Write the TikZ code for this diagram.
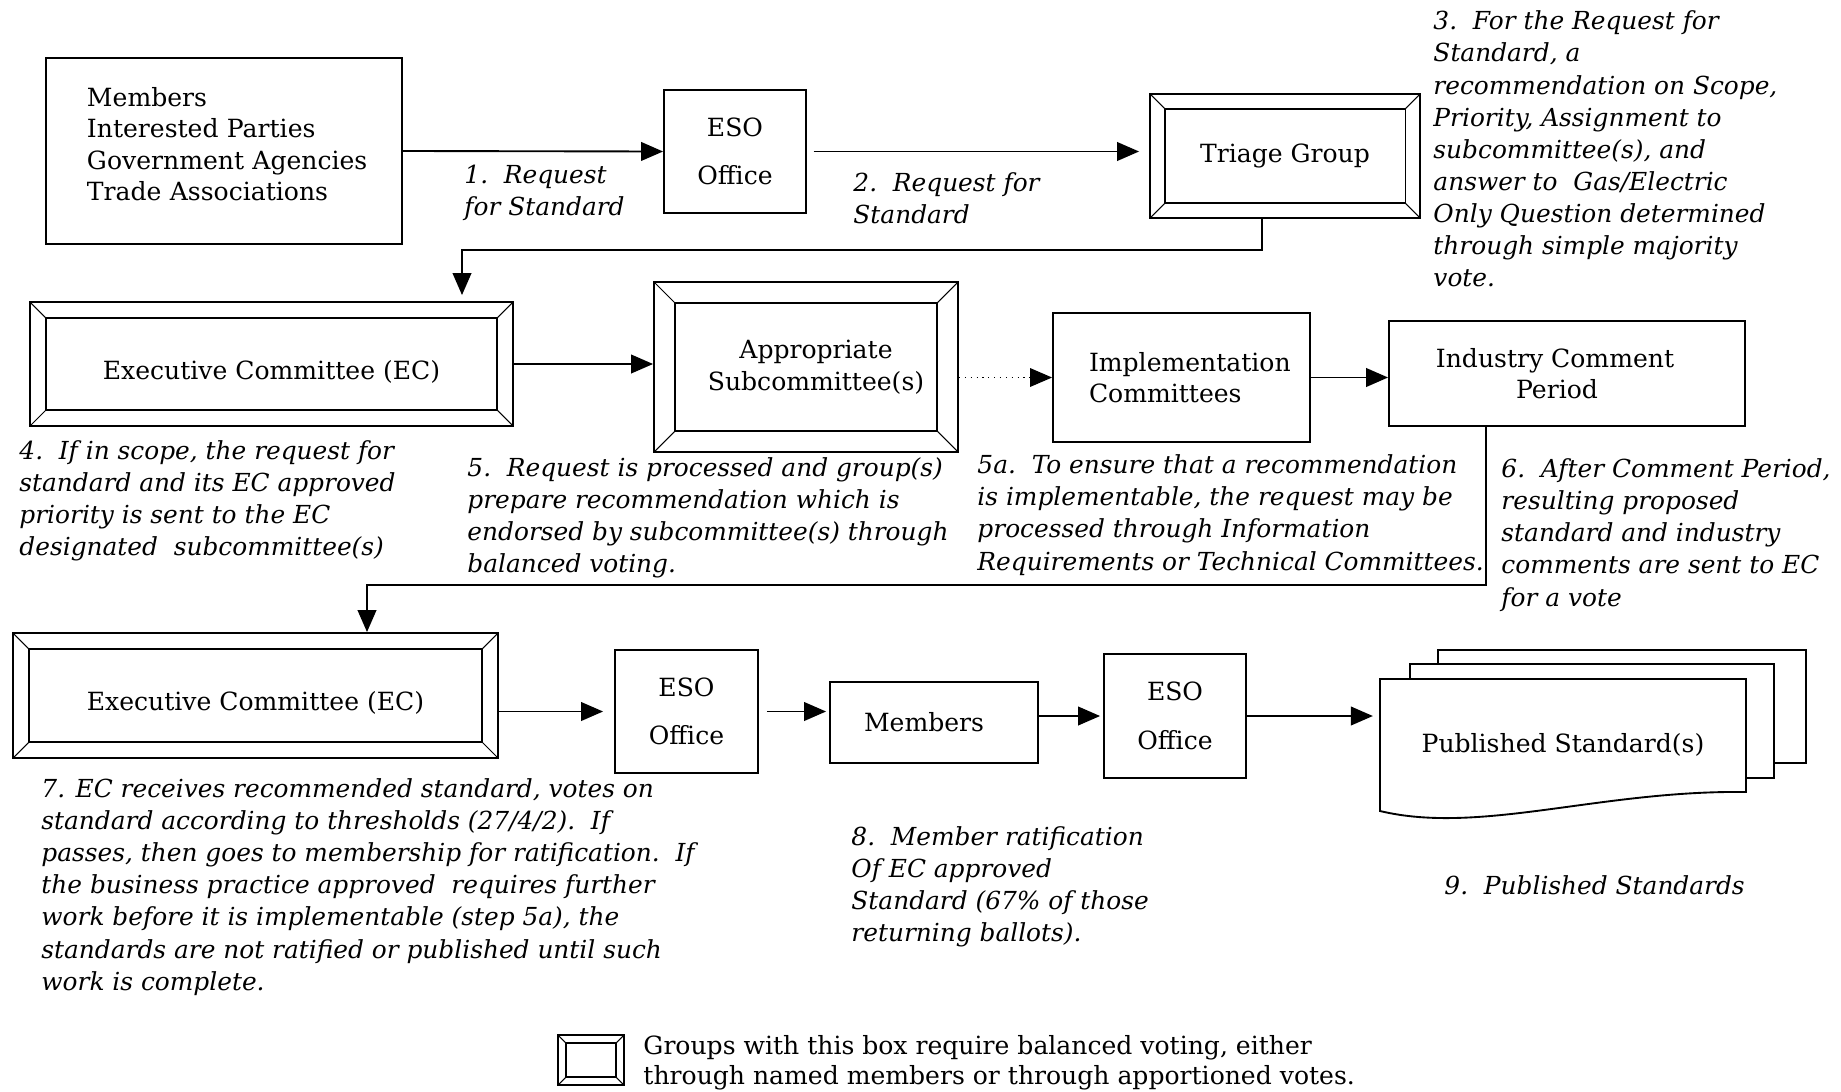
\documentclass[tikz,border=0pt]{standalone}
\usepackage{fontspec}
\setmainfont{DejaVu Serif}
\usetikzlibrary{arrows.meta,positioning,calc}
\tikzset{
>={Triangle[length=0.33cm,width=0.28cm]},
  box/.style={
    rectangle,
    draw=black, line width=0.8pt,
    inner sep=0pt,
    align=center},
  bevelbox/.style={
    box,
    path picture={
      \draw[line width=0.45pt]
        ([shift={(#1,-#1)}]path picture bounding box.north west)
        rectangle ([shift={(-#1,#1)}]path picture bounding box.south east);
      \draw[line width=0.45pt]
        (path picture bounding box.north west) -- ++(#1,-#1)
        (path picture bounding box.north east) -- ++(-#1,-#1)
        (path picture bounding box.south west) -- ++(#1,#1)
        (path picture bounding box.south east) -- ++(-#1,#1);}},
  note/.style={
    anchor=west,
    align=left,
    inner sep=0pt,
    font=\fontsize{10.6pt}{13.7pt}\selectfont\itshape},
  line/.style={draw, line width=0.8pt, ->},
  dotline/.style={draw, line width=0.5pt, dotted, ->},
}

\begin{document}
\begin{tikzpicture}[x=0.015cm, y=0.015cm, font=\fontsize{10.7pt}{13.5pt}\selectfont]
\useasboundingbox (0,0) rectangle (1841,-1091);

% first row
\node[box, minimum width=5.34cm, minimum height=2.79cm, text width=4.11cm, align=left,
  text height=8pt, text depth=46.4pt] (members) at (224,-151) {Members\\Interested Parties\\\mbox{Government Agencies}\\Trade Associations};
\node[box, minimum width=2.13cm, minimum height=1.845cm] (eso1) at (735,-151.5) {ESO\\[0.25cm]Office};
\node[bevelbox=0.225cm, minimum width=4.05cm, minimum height=1.86cm] (triage) at (1285,-156) {Triage Group};

% second row
\node[bevelbox=0.24cm, minimum width=7.245cm, minimum height=1.86cm, text height=0.46cm, text depth=0pt] (ec1) at (271.5,-364) {Executive Committee (EC)};
\node[bevelbox=0.315cm, minimum width=4.56cm, minimum height=2.55cm] (subcom) at (806,-367) {\hspace*{0.3cm}Appropriate\\\hspace*{0.3cm}Subcommittee(s)};
\node[box, minimum width=3.855cm, minimum height=1.935cm, text width=2.775cm, align=left] (impl) at (1181.5,-377.5) {\mbox{Implementation}\\Committees};
\node[box, minimum width=5.34cm, minimum height=1.575cm] (icp) at (1567,-373.5) {Industry Comment\hspace*{0.36cm}\\Period\hspace*{0.3cm}};

% third row
\node[bevelbox=0.24cm, minimum width=7.275cm, minimum height=1.875cm, text height=0.46cm, text depth=0pt] (ec2) at (255.5,-695.5) {Executive Committee (EC)};
\node[box, minimum width=2.145cm, minimum height=1.845cm] (eso2) at (686.5,-711.5) {ESO\\[0.25cm]Office};
\node[box, minimum width=3.12cm, minimum height=1.215cm, text width=2.1cm, align=left] (members2) at (934,-722.5) {Members};
\node[box, minimum width=2.13cm, minimum height=1.86cm] (eso3) at (1175,-716) {ESO\\[0.25cm]Office};

% stack of documents
\draw[fill=white, line width=0.8pt] (1438,-650) rectangle (1806,-763);
\draw[fill=white, line width=0.8pt] (1410,-664) rectangle (1774,-778);
\draw[fill=white, line width=0.8pt] (1380,-679) -- (1746,-679) -- (1746,-792)
  .. controls (1600,-790) and (1480,-835) .. (1380,-811) -- cycle;
\node[minimum width=5.49cm, minimum height=1.98cm, inner sep=0pt] (pub) at (1563,-745) {Published Standard(s)};

% legend
\node[bevelbox=0.12cm, minimum width=0.99cm, minimum height=0.75cm] (key) at (591,-1060) {};
\node[anchor=west, align=left, inner sep=0pt, font=\fontsize{10.7pt}{13pt}\selectfont] (keytext) at (643,-1063) {Groups with this box require balanced voting, either\\through named members or through apportioned votes.};

% connectors
\draw[line] (members.east) -- (eso1.west);
\draw[line, shorten <=0.1cm, shorten >=0.15cm] (eso1.east) -- (eso1.east -| triage.west);
\coordinate (k1) at (1262,-250);
\coordinate (k2) at (462,-250);
\draw[line, shorten >=0.09cm] (triage.south -| k1) -- (k1) -- (k2) -- (k2 |- ec1.north);
\draw[line] (ec1.east) -- (ec1.east -| subcom.west);
\draw[dotline] (subcom.east |- impl.west) -- (impl.west);
\draw[line] (impl.east) -- (impl.east -| icp.west);
\coordinate (k3) at (1486,-585);
\coordinate (k4) at (367,-585);
\draw[line] (icp.south -| k3) -- (k3) -- (k4) -- (k4 |- ec2.north);
\draw[line, shorten >=0.165cm] (ec2.east |- eso2.west) -- (eso2.west);
\draw[line, shorten <=0.12cm, shorten >=0.045cm] (eso2.east) -- (eso2.east -| members2.west);
\draw[line, shorten >=0.045cm] (members2.east |- eso3.west) -- (eso3.west);
\draw[line, shorten >=0.1cm] (eso3.east) -- (eso3.east -| pub.west);

% step notes
\node[note] (l1) at (464,-193) {1.~~Request\\for Standard};
\node[note] (l2) at (853,-198) {2.~~Request for\\Standard};
\node[note] (l3) at (1433,-149) {3.~~For the Request for\\Standard, a\\recommendation on Scope,\\Priority, Assignment to\\subcommittee(s), and\\answer to~~Gas/Electric\\Only Question determined\\through simple majority\\vote.};
\node[note] (l4) at (19,-501) {4.~~If in scope, the request for\\standard and its EC approved\\priority is sent to the EC\\designated~~subcommittee(s)};
\node[note] (l5) at (467,-518) {5.~~Request is processed and group(s)\\prepare recommendation which is\\endorsed by subcommittee(s) through\\balanced voting.};
\node[note] (l5a) at (977,-515) {5a.~~To ensure that a recommendation\\is implementable, the request may be\\processed through Information\\Requirements or Technical Committees.};
\node[note] (l6) at (1501,-535) {6.~~After Comment Period,\\resulting proposed\\standard and industry\\comments are sent to EC\\for a vote};
\node[note] (l7) at (41,-887) {7. EC receives recommended standard, votes on\\standard according to thresholds (27/4/2).~~If\\passes, then goes to membership for ratification.~~If\\the business practice approved~~requires further\\work before it is implementable (step 5a), the\\standards are not ratified or published until such\\work is complete.};
\node[note] (l8) at (851,-887) {8.~~Member ratification\\Of EC approved\\Standard (67\% of those\\returning ballots).};
\node[note] (l9) at (1444,-885) {9.~~Published Standards};
\end{tikzpicture}
\end{document}
